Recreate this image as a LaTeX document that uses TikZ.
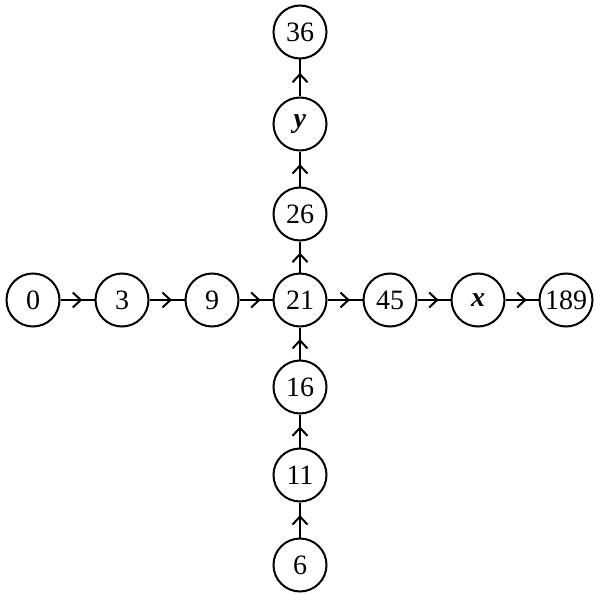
\documentclass[tikz,border=0pt]{standalone}
\usepackage{fontspec}
\setmainfont{Liberation Serif}
\usetikzlibrary{arrows.meta,decorations.markings}
\tikzset{
  num/.style={circle,draw,line width=2pt,inner sep=0pt,minimum size=53pt,font=\fontsize{28}{28}\selectfont},
  link/.style={line width=2pt,postaction={decorate},
    decoration={markings,mark=at position 0.64 with {\arrow[line width=2pt]{Straight Barb[length=8pt,width=15pt]}}}}
}
\begin{document}
\begin{tikzpicture}[x=1pt,y=-1pt]
\useasboundingbox (0,0) rectangle (595,594);
\node[num] (n0) at (33,300) {0};
\node[num] (n3) at (122,300) {3};
\node[num] (n9) at (212,300) {9};
\node[num] (n21) at (300,300) {21};
\node[num] (n45) at (390,300) {45};
\node[num] (nx) at (478,300) {\textbf{\textit{x}}};
\node[num] (n189) at (566,300) {189};
\node[num] (n36) at (300,32) {36};
\node[num] (ny) at (300,124) {\textbf{\textit{y}}};
\node[num] (n26) at (300,214) {26};
\node[num] (n16) at (300,387) {16};
\node[num] (n11) at (300,475) {11};
\node[num] (n6) at (300,565) {6};
\draw[link] (n0) -- (n3);
\draw[link] (n3) -- (n9);
\draw[link] (n9) -- (n21);
\draw[link] (n21) -- (n45);
\draw[link] (n45) -- (nx);
\draw[link] (nx) -- (n189);
\draw[link] (n6) -- (n11);
\draw[link] (n11) -- (n16);
\draw[link] (n16) -- (n21);
\draw[link] (n21) -- (n26);
\draw[link] (n26) -- (ny);
\draw[link] (ny) -- (n36);
\end{tikzpicture}
\end{document}
